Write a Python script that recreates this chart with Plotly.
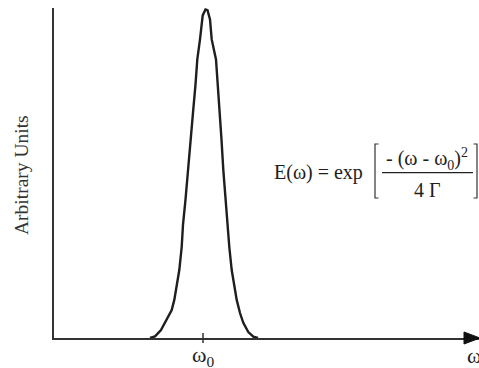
import plotly.graph_objects as go

# Curve: omega - omega0 (arbitrary units) and amplitude (arbitrary units)
omega_offset = [-5.3, -4.8, -4.2, -3.63, -3.13, -2.87, -2.63, -2.37, -2.13, -2.0, -1.75, -1.47,
                -1.2, -1.0, -0.75, -0.57, -0.3, -0.03, 0.25, 0.45, 0.7, 0.87, 1.3, 1.53, 1.65,
                1.85, 2.03, 2.25, 2.45, 2.63, 2.87, 3.13, 3.37, 3.7, 4.03, 4.53, 5.03, 5.5]
amplitude = [0.0, 0.005, 0.024, 0.055, 0.085, 0.116, 0.155, 0.207, 0.277, 0.345, 0.421, 0.512,
             0.604, 0.686, 0.771, 0.848, 0.909, 0.982, 1.0, 0.998, 0.970, 0.909, 0.848, 0.756,
             0.686, 0.604, 0.512, 0.421, 0.345, 0.277, 0.207, 0.155, 0.116, 0.076, 0.046,
             0.018, 0.004, 0.0]
tick_values = [0]
tick_labels = ["ω<sub>0</sub>"]
x_axis_label = "ω"
y_axis_label = "Arbitrary Units"

W, H = 479, 368
L, R, T, B = 54, 0, 8, 30
PW, PH = W - L - R, H - T - B


def px(x):
    return (x - L) / PW


def py(y):
    return (H - B - y) / PH


FONT = "Liberation Serif"
INK = "#1e1e1e"
FS = 20

fig = go.Figure()
fig.add_trace(go.Scatter(x=omega_offset, y=amplitude, mode="lines",
                         line=dict(color=INK, width=2.4),
                         hoverinfo="skip", showlegend=False))

shapes = []
# tick marks crossing the axis
for tv in tick_values:
    shapes.append(dict(type="line", xref="x", yref="paper", x0=tv, x1=tv,
                       y0=-0.015, y1=0.015, line=dict(color="#333", width=1.5)))
# arrow head on the x axis
shapes.append(dict(type="path", xref="paper", yref="paper",
                   path=f"M {px(464)},{py(332)} L {px(480)},{py(338)} L {px(464)},{py(344)} Z",
                   fillcolor="#111", line=dict(color="#111", width=1)))
# fraction line
shapes.append(dict(type="line", xref="paper", yref="paper", x0=px(382), x1=px(473),
                   y0=py(172.7), y1=py(172.7), line=dict(color="#222", width=1.3)))
# square brackets
shapes.append(dict(type="path", xref="paper", yref="paper",
                   path=f"M {px(378.5)},{py(144)} L {px(375)},{py(144)} L {px(375)},{py(198)} L {px(378.5)},{py(198)}",
                   line=dict(color="#333", width=1.2)))
shapes.append(dict(type="path", xref="paper", yref="paper",
                   path=f"M {px(473.5)},{py(144)} L {px(477)},{py(144)} L {px(477)},{py(198)} L {px(473.5)},{py(198)}",
                   line=dict(color="#333", width=1.2)))

annotations = []
for tv, tl in zip(tick_values, tick_labels):
    annotations.append(dict(x=tv, xref="x", y=py(356), yref="paper", text=tl, showarrow=False,
                            xanchor="center", yanchor="middle",
                            font=dict(family=FONT, size=22, color=INK)))
annotations.append(dict(x=px(465), xref="paper", y=py(355), yref="paper", text=x_axis_label,
                        showarrow=False, xanchor="left", yanchor="middle",
                        font=dict(family=FONT, size=22, color=INK)))
annotations.append(dict(x=px(21), xref="paper", y=py(175), yref="paper", text=y_axis_label,
                        showarrow=False, textangle=-90, xanchor="center", yanchor="middle",
                        font=dict(family=FONT, size=19.5, color="#333")))
annotations.append(dict(x=px(318.5), xref="paper", y=py(172), yref="paper",
                        text="E(ω) = exp", showarrow=False, xanchor="center", yanchor="middle",
                        font=dict(family=FONT, size=FS, color=INK)))
annotations.append(dict(x=px(427), xref="paper", y=py(159), yref="paper",
                        text="- (ω - ω<sub>0</sub>)<sup>2</sup>", showarrow=False,
                        xanchor="center", yanchor="middle",
                        font=dict(family=FONT, size=FS, color=INK)))
annotations.append(dict(x=px(427), xref="paper", y=py(190), yref="paper",
                        text="4 Γ", showarrow=False, xanchor="center", yanchor="middle",
                        font=dict(family=FONT, size=FS, color=INK)))

fig.update_layout(
    width=W, height=H,
    margin=dict(l=L, r=R, t=T, b=B, pad=0),
    paper_bgcolor="white", plot_bgcolor="white",
    xaxis=dict(range=[(54 - 203) / 10, (479 - 203) / 10], showgrid=False, zeroline=False,
               showline=True, linecolor="#333", linewidth=1.5, showticklabels=False,
               ticks="", fixedrange=True),
    yaxis=dict(range=[0, 330 / 328.5], showgrid=False, zeroline=False,
               showline=True, linecolor="#333", linewidth=1.5, showticklabels=False,
               ticks="", fixedrange=True),
    shapes=shapes, annotations=annotations, showlegend=False,
)

fig.write_html("out.html", config={"displayModeBar": False},
               post_script="document.body.style.margin='0';document.body.style.overflow='hidden';")
